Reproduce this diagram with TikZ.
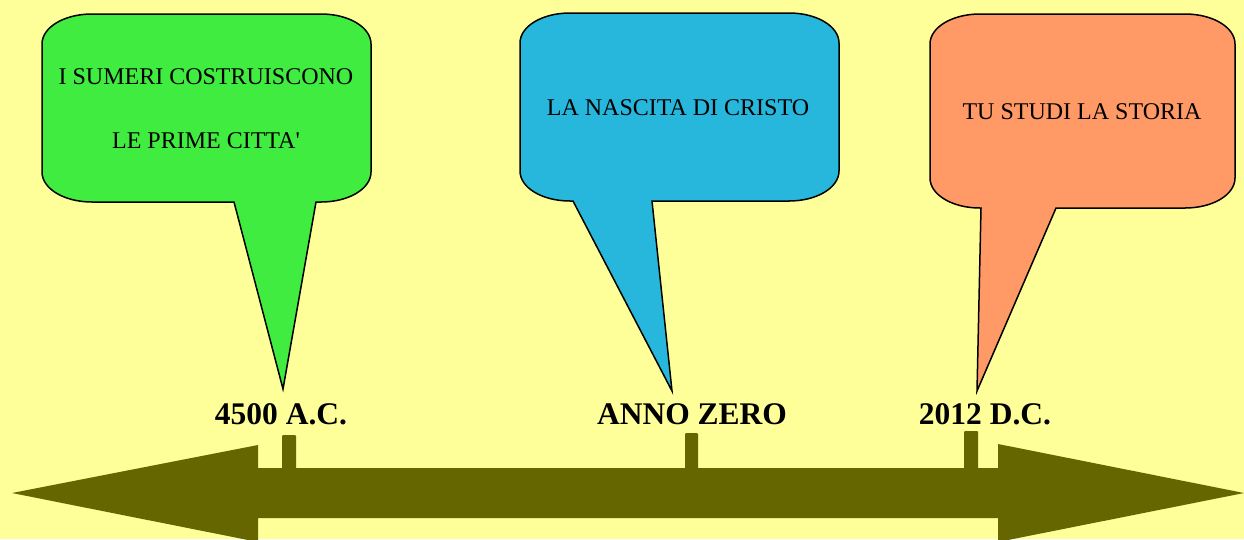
\documentclass[tikz,border=0pt]{standalone}
\usepackage{fontspec}
\setmainfont{Liberation Serif}
\definecolor{bgyellow}{HTML}{FFFF99}
\definecolor{bgreen}{HTML}{3FEC3F}
\definecolor{bblue}{HTML}{27B7DC}
\definecolor{borange}{HTML}{FF9966}
\definecolor{olive}{HTML}{666600}
% #1 x0, #2 y0, #3 x1, #4 y1, #5 tail base left, #6 tail base right, #7 tip coordinate name, #8 fill colour
\newcommand\drawbubble[8]{%
  \draw[bubble, fill=#8] (#5,#4) -- (#7) -- (#6,#4) -- ({#3-50},#4)
    .. controls ({#3-22},#4) and (#3,{#4-13.4}) .. (#3,{#4-30})
    -- (#3,{#2+30})
    .. controls (#3,{#2+13.4}) and ({#3-22},#2) .. ({#3-50},#2)
    -- ({#1+50},#2)
    .. controls ({#1+22},#2) and (#1,{#2+13.4}) .. (#1,{#2+30})
    -- (#1,{#4-30})
    .. controls (#1,{#4-13.4}) and ({#1+22},#4) .. ({#1+50},#4)
    -- cycle;}
\begin{document}
\begin{tikzpicture}[x=1pt,y=-1pt,
  bubble/.style={draw=black, line width=1.5pt, line join=miter},
  btext/.style={inner sep=0pt, font=\fontsize{24}{28}\selectfont, text=black},
  datelabel/.style={inner sep=0pt, font=\fontsize{31.5}{36}\selectfont\bfseries, text=black},
  tick/.style={fill=olive, rounded corners=1pt}]
\useasboundingbox (0,0) rectangle (1244,539);
\clip (0,0) rectangle (1244,539);
\fill[bgyellow] (0,0) rectangle (1244,539);
% timeline arrow
\fill[olive] (12,493) -- (258,445) -- (258,468) -- (998,468) -- (998,444)
  -- (1244,493) -- (998,542) -- (998,518) -- (258,518) -- (258,542) -- cycle;
\fill[tick] (282,435) rectangle (296,470);
\fill[tick] (685,433) rectangle (698,470);
\fill[tick] (964,431) rectangle (978,470);
% tips of the callouts
\coordinate (tipA) at (283,389);
\coordinate (tipB) at (672,391);
\coordinate (tipC) at (977,391);
% callouts
\drawbubble{42}{14}{371}{202}{234}{316}{tipA}{bgreen}
\drawbubble{520}{13}{839}{201}{573}{652}{tipB}{bblue}
\drawbubble{930}{14}{1235}{208}{981}{1056}{tipC}{borange}
\node[btext] (sum1) at (206,77) {I SUMERI COSTRUISCONO};
\node[btext] (sum2) at (206,141) {LE PRIME CITTA\textquotesingle};
\node[btext] (cristo) at (678,108) {LA NASCITA DI CRISTO};
\node[btext] (storia) at (1082,112) {TU STUDI LA STORIA};
% date labels
\node[datelabel] (d1) at (281,414) {4500 A.C.};
\node[datelabel] (d2) at (692,414) {ANNO ZERO};
\node[datelabel] (d3) at (985,414) {2012 D.C.};
\end{tikzpicture}
\end{document}
